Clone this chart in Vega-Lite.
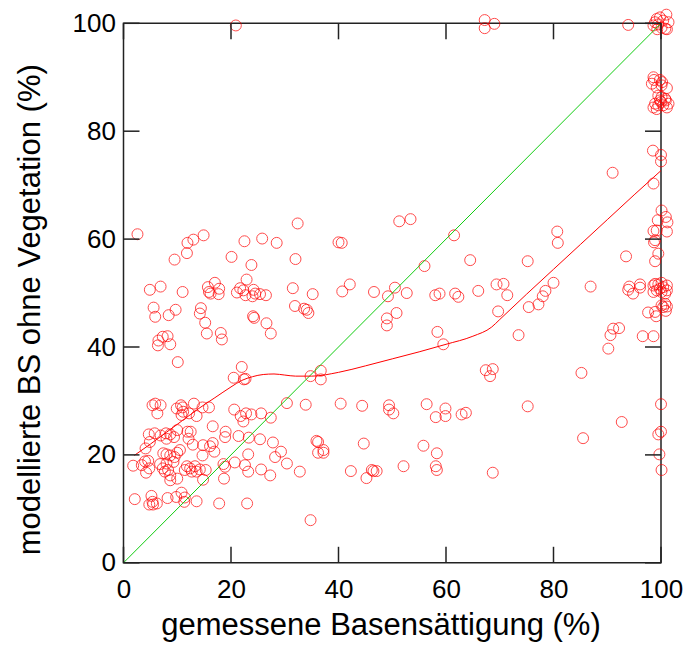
{
  "$schema": "https://vega.github.io/schema/vega-lite/v6.json",
  "autosize": "none",
  "width": 537.5,
  "height": 539.5,
  "padding": {"left": 123.5, "top": 23.3, "right": 29, "bottom": 88.2},
  "background": "white",
  "config": {
    "view": {"stroke": "#222", "strokeWidth": 1.5},
    "axis": {"labelFont": "Liberation Sans", "titleFont": "Liberation Sans", "labelColor": "black", "titleColor": "black", "titleFontWeight": "normal", "grid": false, "domain": false, "ticks": false, "labelFlush": false, "labelOverlap": false}
  },
  "datasets": {
    "diagline": [{"x": 0, "y": 0}, {"x": 100, "y": 100}],
    "tickvals": [{"v": 0}, {"v": 20}, {"v": 40}, {"v": 60}, {"v": 80}, {"v": 100}],
    "curve": [
      {"x": 2, "y": 19.9}, {"x": 5, "y": 22}, {"x": 8, "y": 24.2}, {"x": 11, "y": 26.4}, {"x": 14, "y": 28.6}, {"x": 17, "y": 30.6}, {"x": 20, "y": 32.6}, {"x": 22, "y": 33.8}, {"x": 24, "y": 34.5}, {"x": 26, "y": 34.9}, {"x": 28, "y": 35.0}, {"x": 30, "y": 34.8}, {"x": 32, "y": 34.6}, {"x": 35, "y": 34.6}, {"x": 40, "y": 35.3}, {"x": 45, "y": 36.5}, {"x": 50, "y": 37.8}, {"x": 55, "y": 39.1}, {"x": 60, "y": 40.5}, {"x": 65, "y": 42.0}, {"x": 68.5, "y": 43.7}, {"x": 70, "y": 45.1}, {"x": 75, "y": 49.8}, {"x": 80, "y": 54.4}, {"x": 85, "y": 59.0}, {"x": 90, "y": 63.6}, {"x": 95, "y": 68.2}, {"x": 100, "y": 72.7}
    ],
    "pts": [
      {"x": 2.6, "y": 60.9}, {"x": 32.4, "y": 62.9}, {"x": 11.9, "y": 59.3}, {"x": 13.0, "y": 59.9}, {"x": 14.9, "y": 60.7}, {"x": 11.8, "y": 57.4}, {"x": 9.5, "y": 56.2}, {"x": 22.5, "y": 59.6}, {"x": 25.8, "y": 60.1}, {"x": 28.5, "y": 59.3}, {"x": 20.1, "y": 56.7}, {"x": 23.8, "y": 55.2}, {"x": 32.0, "y": 56.3},
      {"x": 4.9, "y": 50.6}, {"x": 6.9, "y": 51.2}, {"x": 11.0, "y": 50.2}, {"x": 15.7, "y": 51.1}, {"x": 17.0, "y": 51.9}, {"x": 17.8, "y": 50.8}, {"x": 15.9, "y": 50.2}, {"x": 16.2, "y": 49.9}, {"x": 17.7, "y": 49.8}, {"x": 22.9, "y": 52.5}, {"x": 21.7, "y": 50.9}, {"x": 21.1, "y": 50.1}, {"x": 22.3, "y": 50.5}, {"x": 22.7, "y": 49.6}, {"x": 24.2, "y": 50.6}, {"x": 24.5, "y": 49.9}, {"x": 24.0, "y": 49.4}, {"x": 25.4, "y": 49.8}, {"x": 26.5, "y": 49.6}, {"x": 31.5, "y": 50.9}, {"x": 31.9, "y": 47.6},
      {"x": 5.6, "y": 47.3}, {"x": 5.9, "y": 45.6}, {"x": 8.4, "y": 45.9}, {"x": 9.7, "y": 46.9}, {"x": 14.4, "y": 47.2}, {"x": 14.2, "y": 46.2}, {"x": 15.2, "y": 44.5}, {"x": 15.5, "y": 42.5}, {"x": 18.1, "y": 42.6}, {"x": 18.3, "y": 41.4}, {"x": 24.1, "y": 45.7}, {"x": 24.3, "y": 45.4}, {"x": 26.6, "y": 44.4}, {"x": 27.4, "y": 42.5}, {"x": 6.5, "y": 41.2}, {"x": 7.3, "y": 41.9}, {"x": 8.2, "y": 42.0}, {"x": 6.4, "y": 40.3}, {"x": 8.7, "y": 40.5}, {"x": 10.1, "y": 37.2}, {"x": 22.0, "y": 36.3}, {"x": 20.5, "y": 34.3}, {"x": 22.4, "y": 34.0}, {"x": 22.7, "y": 34.1},
      {"x": 5.4, "y": 29.2}, {"x": 5.9, "y": 29.5}, {"x": 6.9, "y": 29.2}, {"x": 6.3, "y": 27.7}, {"x": 9.9, "y": 28.6}, {"x": 10.7, "y": 29.2}, {"x": 11.0, "y": 28.8}, {"x": 11.1, "y": 28.0}, {"x": 10.8, "y": 27.4}, {"x": 12.2, "y": 27.7}, {"x": 13.1, "y": 29.5}, {"x": 13.6, "y": 27.2}, {"x": 14.7, "y": 28.8}, {"x": 15.9, "y": 28.8}, {"x": 20.6, "y": 28.4}, {"x": 21.8, "y": 27.2}, {"x": 22.3, "y": 26.2}, {"x": 22.8, "y": 27.7}, {"x": 23.8, "y": 27.5}, {"x": 25.6, "y": 27.7}, {"x": 27.4, "y": 26.9}, {"x": 30.4, "y": 29.6},
      {"x": 16.6, "y": 25.3}, {"x": 19.0, "y": 24.3}, {"x": 18.9, "y": 23.3}, {"x": 21.4, "y": 23.5}, {"x": 23.3, "y": 23.2}, {"x": 25.4, "y": 22.9}, {"x": 27.8, "y": 22.3}, {"x": 4.7, "y": 23.8}, {"x": 5.8, "y": 24.0}, {"x": 4.9, "y": 22.4}, {"x": 4.1, "y": 21.2}, {"x": 6.9, "y": 23.6}, {"x": 7.9, "y": 24.0}, {"x": 8.0, "y": 23.0}, {"x": 8.7, "y": 23.8}, {"x": 9.4, "y": 23.3}, {"x": 10.0, "y": 24.6}, {"x": 11.9, "y": 24.3}, {"x": 12.5, "y": 24.3}, {"x": 12.1, "y": 23.0}, {"x": 12.9, "y": 21.9}, {"x": 14.8, "y": 21.8}, {"x": 16.1, "y": 21.6}, {"x": 16.6, "y": 22.2}, {"x": 16.9, "y": 20.6}, {"x": 14.7, "y": 19.9}, {"x": 10.5, "y": 20.9}, {"x": 10.0, "y": 20.4}, {"x": 7.4, "y": 20.3}, {"x": 8.0, "y": 20.1}, {"x": 8.7, "y": 19.9}, {"x": 9.5, "y": 19.6}, {"x": 23.2, "y": 20.1}, {"x": 29.3, "y": 20.6}, {"x": 28.2, "y": 19.6},
      {"x": 1.8, "y": 18.0}, {"x": 3.4, "y": 18.1}, {"x": 4.0, "y": 18.8}, {"x": 4.6, "y": 18.9}, {"x": 4.8, "y": 17.5}, {"x": 4.2, "y": 16.7}, {"x": 6.8, "y": 18.3}, {"x": 7.3, "y": 17.5}, {"x": 7.7, "y": 16.9}, {"x": 8.3, "y": 17.2}, {"x": 8.7, "y": 16.2}, {"x": 8.7, "y": 15.3}, {"x": 10.0, "y": 15.6}, {"x": 8.0, "y": 18.4}, {"x": 9.3, "y": 18.7}, {"x": 11.4, "y": 17.2}, {"x": 11.8, "y": 17.9}, {"x": 12.4, "y": 17.5}, {"x": 12.7, "y": 16.9}, {"x": 13.3, "y": 17.9}, {"x": 13.6, "y": 16.9}, {"x": 14.2, "y": 17.3}, {"x": 15.3, "y": 17.2}, {"x": 14.8, "y": 15.4}, {"x": 18.6, "y": 18.3}, {"x": 18.9, "y": 17.8}, {"x": 18.7, "y": 15.6}, {"x": 20.7, "y": 18.6}, {"x": 22.6, "y": 18.1}, {"x": 23.2, "y": 16.9}, {"x": 25.6, "y": 17.3}, {"x": 27.3, "y": 16.2}, {"x": 30.4, "y": 18.4}, {"x": 32.8, "y": 16.9},
      {"x": 2.1, "y": 11.8}, {"x": 5.2, "y": 12.4}, {"x": 4.8, "y": 10.8}, {"x": 5.5, "y": 10.8}, {"x": 6.2, "y": 11.0}, {"x": 5.4, "y": 11.3}, {"x": 8.2, "y": 12.0}, {"x": 9.8, "y": 12.2}, {"x": 10.8, "y": 13.0}, {"x": 11.4, "y": 12.1}, {"x": 11.3, "y": 11.3}, {"x": 13.6, "y": 11.4}, {"x": 17.8, "y": 11.0}, {"x": 23.0, "y": 11.0}, {"x": 34.8, "y": 7.9},
      {"x": 51.3, "y": 63.3}, {"x": 53.4, "y": 63.7}, {"x": 40.0, "y": 59.4}, {"x": 40.6, "y": 59.3}, {"x": 61.5, "y": 60.7}, {"x": 56.0, "y": 55.0}, {"x": 64.5, "y": 56.1}, {"x": 35.2, "y": 49.8}, {"x": 40.7, "y": 50.3}, {"x": 42.1, "y": 51.6}, {"x": 46.6, "y": 50.2}, {"x": 49.2, "y": 49.4}, {"x": 50.5, "y": 51.0}, {"x": 52.7, "y": 50.0}, {"x": 58.0, "y": 49.6}, {"x": 58.8, "y": 49.9}, {"x": 61.7, "y": 49.9}, {"x": 62.3, "y": 49.3}, {"x": 33.6, "y": 47.1}, {"x": 34.1, "y": 46.9}, {"x": 34.4, "y": 46.3}, {"x": 49.0, "y": 45.3}, {"x": 50.8, "y": 46.3}, {"x": 49.0, "y": 44.0}, {"x": 58.4, "y": 42.8}, {"x": 59.5, "y": 40.5}, {"x": 34.8, "y": 34.6}, {"x": 36.7, "y": 35.6}, {"x": 36.7, "y": 34.0},
      {"x": 33.9, "y": 29.3}, {"x": 40.4, "y": 29.5}, {"x": 44.4, "y": 29.1}, {"x": 49.4, "y": 29.2}, {"x": 49.4, "y": 28.4}, {"x": 50.2, "y": 27.7}, {"x": 56.4, "y": 29.4}, {"x": 59.9, "y": 28.6}, {"x": 58.1, "y": 27.0}, {"x": 59.9, "y": 27.2}, {"x": 62.9, "y": 27.5}, {"x": 63.7, "y": 27.8}, {"x": 35.9, "y": 22.6}, {"x": 36.2, "y": 22.4}, {"x": 36.2, "y": 20.4}, {"x": 37.2, "y": 20.9}, {"x": 37.2, "y": 20.4}, {"x": 44.7, "y": 22.1}, {"x": 55.8, "y": 21.7}, {"x": 58.3, "y": 20.3}, {"x": 42.3, "y": 17.0}, {"x": 46.2, "y": 17.2}, {"x": 46.5, "y": 17.0}, {"x": 47.1, "y": 17.0}, {"x": 45.2, "y": 15.7}, {"x": 52.1, "y": 17.9}, {"x": 58.1, "y": 17.9}, {"x": 58.3, "y": 17.2},
      {"x": 66.0, "y": 50.4}, {"x": 69.4, "y": 51.6}, {"x": 70.7, "y": 51.7}, {"x": 71.4, "y": 49.6}, {"x": 69.7, "y": 46.6}, {"x": 73.5, "y": 42.2}, {"x": 75.4, "y": 47.4}, {"x": 77.2, "y": 47.9}, {"x": 78.0, "y": 49.4}, {"x": 78.5, "y": 50.4}, {"x": 80.0, "y": 51.9}, {"x": 86.9, "y": 51.2}, {"x": 93.9, "y": 50.6}, {"x": 94.8, "y": 49.9}, {"x": 94.1, "y": 51.2}, {"x": 96.1, "y": 51.6}, {"x": 96.1, "y": 51.0}, {"x": 97.6, "y": 46.4}, {"x": 91.1, "y": 43.4}, {"x": 92.2, "y": 43.5}, {"x": 90.6, "y": 42.2}, {"x": 90.2, "y": 39.7}, {"x": 96.6, "y": 42.0}, {"x": 98.6, "y": 42.0}, {"x": 67.4, "y": 35.7}, {"x": 68.7, "y": 35.9}, {"x": 68.2, "y": 34.6}, {"x": 85.2, "y": 35.2}, {"x": 100.0, "y": 29.4}, {"x": 75.2, "y": 29.0}, {"x": 92.7, "y": 26.1}, {"x": 85.5, "y": 23.1}, {"x": 100.0, "y": 24.3}, {"x": 99.5, "y": 23.8}, {"x": 68.7, "y": 16.7}, {"x": 99.7, "y": 20.1}, {"x": 100.1, "y": 17.2},
      {"x": 80.7, "y": 61.4}, {"x": 80.8, "y": 59.3}, {"x": 75.2, "y": 55.9}, {"x": 93.5, "y": 56.8},
      {"x": 67.2, "y": 100.6}, {"x": 67.2, "y": 99.1}, {"x": 69.0, "y": 99.9}, {"x": 93.9, "y": 99.7}, {"x": 20.9, "y": 99.6}, {"x": 91.0, "y": 72.3}, {"x": 98.6, "y": 70.3}, {"x": 98.5, "y": 76.4}, {"x": 100.0, "y": 75.6}, {"x": 100.0, "y": 74.4},
      {"x": 100.1, "y": 65.3}, {"x": 99.4, "y": 63.5}, {"x": 100.9, "y": 64.1}, {"x": 101.2, "y": 63.1}, {"x": 98.6, "y": 61.5}, {"x": 99.2, "y": 61.6}, {"x": 101.1, "y": 61.4}, {"x": 98.9, "y": 59.8}, {"x": 98.7, "y": 59.4}, {"x": 99.5, "y": 57.3}, {"x": 98.9, "y": 55.9},
      {"x": 99.2, "y": 100.8}, {"x": 98.9, "y": 100.2}, {"x": 99.8, "y": 101.1}, {"x": 100.4, "y": 100.5}, {"x": 101.0, "y": 101.6}, {"x": 101.4, "y": 100.2}, {"x": 99.5, "y": 99.8}, {"x": 100.1, "y": 99.2}, {"x": 100.8, "y": 99.0}, {"x": 98.6, "y": 99.6}, {"x": 99.3, "y": 98.9}, {"x": 101.1, "y": 98.9},
      {"x": 98.6, "y": 90.0}, {"x": 98.3, "y": 88.8}, {"x": 98.7, "y": 89.5}, {"x": 99.8, "y": 89.5}, {"x": 100.2, "y": 89.1}, {"x": 100.1, "y": 88.5}, {"x": 99.2, "y": 88.1}, {"x": 101.1, "y": 88.0}, {"x": 99.5, "y": 86.6}, {"x": 100.1, "y": 86.3}, {"x": 100.8, "y": 86.0}, {"x": 99.8, "y": 85.7}, {"x": 98.9, "y": 85.1}, {"x": 98.6, "y": 84.4}, {"x": 99.2, "y": 84.1}, {"x": 100.4, "y": 84.8}, {"x": 101.1, "y": 84.4}, {"x": 101.4, "y": 85.1}, {"x": 100.0, "y": 85.4}, {"x": 99.5, "y": 84.8}, {"x": 100.9, "y": 85.7},
      {"x": 98.6, "y": 51.4}, {"x": 98.9, "y": 51.7}, {"x": 99.5, "y": 51.6}, {"x": 100.1, "y": 51.9}, {"x": 101.1, "y": 51.4}, {"x": 98.6, "y": 50.2}, {"x": 99.2, "y": 50.5}, {"x": 99.8, "y": 50.8}, {"x": 100.1, "y": 50.2}, {"x": 100.8, "y": 49.9}, {"x": 101.1, "y": 50.5}, {"x": 100.4, "y": 51.1},
      {"x": 100.8, "y": 48.0}, {"x": 101.1, "y": 47.5}, {"x": 100.4, "y": 47.4}, {"x": 100.9, "y": 46.7}, {"x": 98.9, "y": 46.5}, {"x": 99.1, "y": 45.7}, {"x": 100.1, "y": 47.7}
    ]
  },
  "layer": [
    {
      "data": {"name": "pts"},
      "mark": {"type": "point", "filled": false, "color": "#ff0000", "size": 120, "strokeWidth": 1},
      "encoding": {
        "x": {"field": "x", "type": "quantitative", "scale": {"domain": [0, 100], "nice": false},
              "axis": {"orient": "bottom", "values": [0, 20, 40, 60, 80, 100], "title": "gemessene Basensättigung (%)", "labelPadding": 14, "labelFontSize": 26, "titleFontSize": 31, "titlePadding": 8, "titleX": 257}},
        "y": {"field": "y", "type": "quantitative", "scale": {"domain": [0, 100], "nice": false},
              "axis": {"orient": "left", "values": [0, 20, 40, 60, 80, 100], "title": "modellierte BS ohne Vegetation (%)", "labelPadding": 8, "labelFontSize": 26, "titleFontSize": 31, "titlePadding": 26, "titleY": 286}}
      }
    },
    {
      "data": {"name": "diagline"},
      "mark": {"type": "line", "color": "#11cc11", "strokeWidth": 1},
      "encoding": {
        "x": {"field": "x", "type": "quantitative"},
        "y": {"field": "y", "type": "quantitative"}
      }
    },
    {
      "data": {"name": "curve"},
      "mark": {"type": "line", "color": "#ff0000", "strokeWidth": 1, "interpolate": "monotone"},
      "encoding": {
        "x": {"field": "x", "type": "quantitative"},
        "y": {"field": "y", "type": "quantitative"}
      }
    },
    {
      "data": {"name": "tickvals"},
      "mark": {"type": "point", "shape": "M0,0L0,-1", "filled": false, "color": "#222", "strokeWidth": 1.5, "size": 1024, "opacity": 1},
      "encoding": {
        "x": {"field": "v", "type": "quantitative"},
        "y": {"datum": 0, "type": "quantitative"}
      }
    },
    {
      "data": {"name": "tickvals"},
      "mark": {"type": "point", "shape": "M0,0L0,1", "filled": false, "color": "#222", "strokeWidth": 1.5, "size": 1024, "opacity": 1},
      "encoding": {
        "x": {"field": "v", "type": "quantitative"},
        "y": {"datum": 100, "type": "quantitative"}
      }
    },
    {
      "data": {"name": "tickvals"},
      "mark": {"type": "point", "shape": "M0,0L1,0", "filled": false, "color": "#222", "strokeWidth": 1.5, "size": 1024, "opacity": 1},
      "encoding": {
        "y": {"field": "v", "type": "quantitative"},
        "x": {"datum": 0, "type": "quantitative"}
      }
    },
    {
      "data": {"name": "tickvals"},
      "mark": {"type": "point", "shape": "M0,0L-1,0", "filled": false, "color": "#222", "strokeWidth": 1.5, "size": 1024, "opacity": 1},
      "encoding": {
        "y": {"field": "v", "type": "quantitative"},
        "x": {"datum": 100, "type": "quantitative"}
      }
    }
  ]
}
